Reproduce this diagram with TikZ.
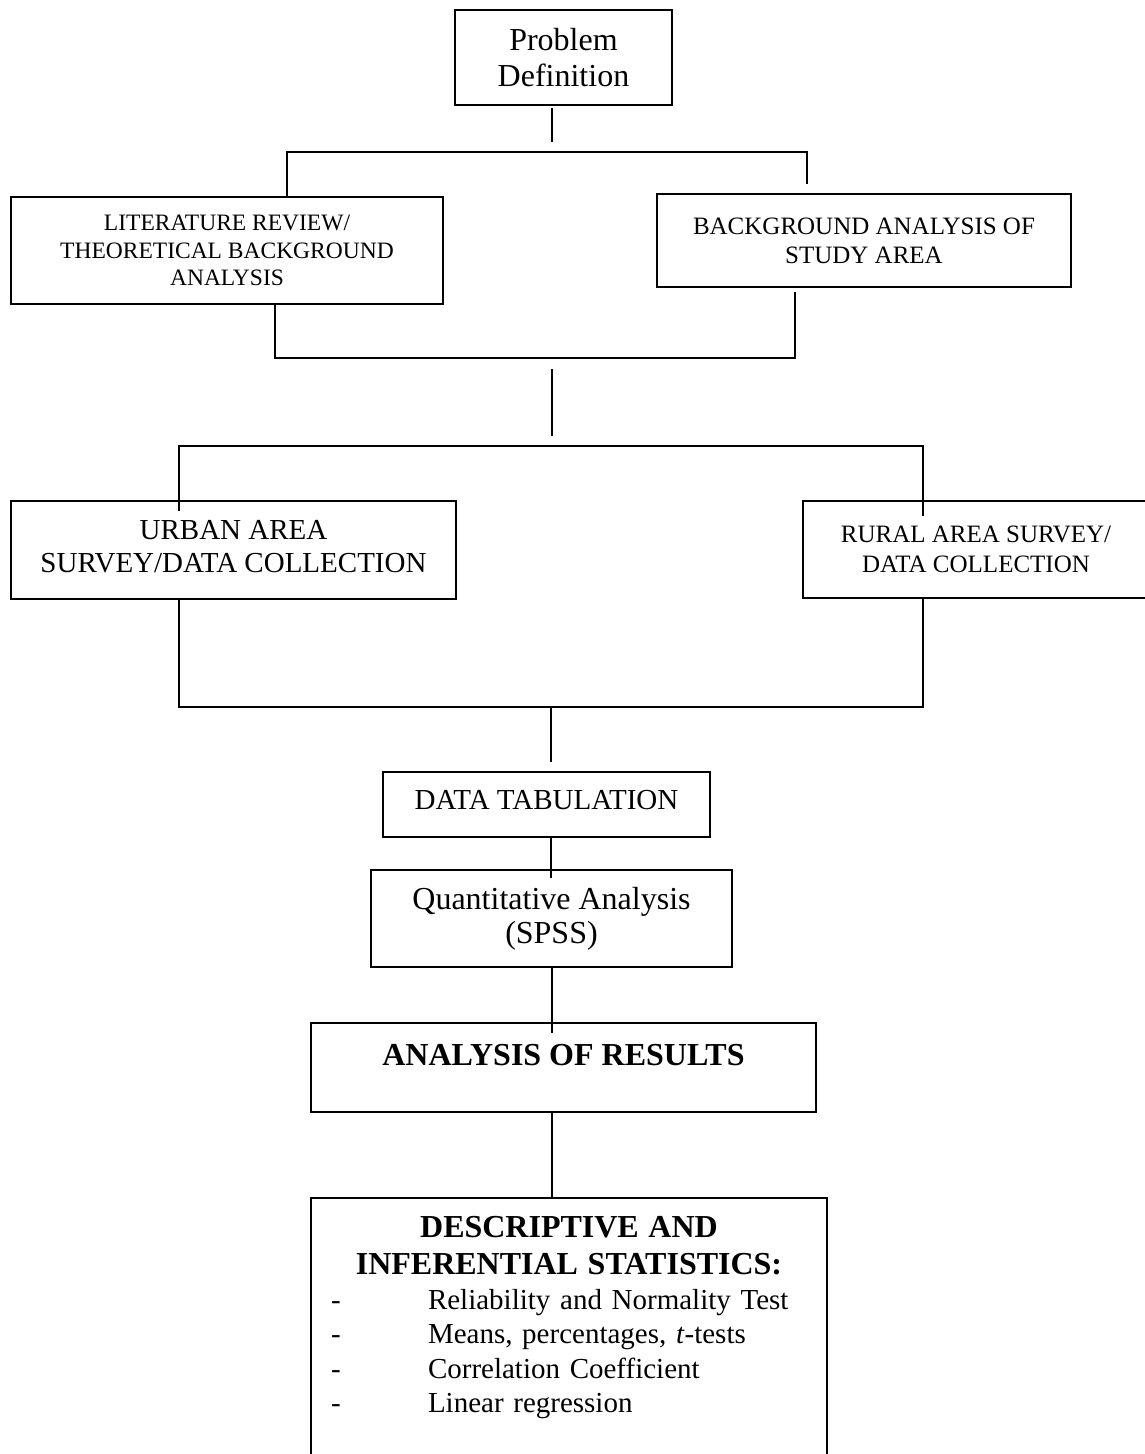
\documentclass[tikz,border=0pt]{standalone}
\usepackage{fontspec}
\setmainfont{Liberation Serif}
\usetikzlibrary{positioning, calc}

\tikzset{
  stage/.style={draw, line width=1.8pt, inner sep=0pt, align=center},
  link/.style={line width=1.8pt}
}
\newcommand{\statitem}[1]{\hspace*{20pt}\makebox[97pt][l]{-}#1}

\begin{document}
\begin{tikzpicture}[x=1pt, y=-1pt]
\useasboundingbox (0,0) rectangle (1145,1454);

% boxes, top to bottom
\node[stage, minimum width=217pt, minimum height=95pt, font=\fontsize{32}{36}\selectfont] (prob) at (563.5,57.5) {Problem\\Definition};
\node[stage, minimum width=432pt, minimum height=107pt, font=\fontsize{23.5}{27.5}\selectfont] (lit) at (227,250.5) {LITERATURE REVIEW/\\THEORETICAL BACKGROUND\\ANALYSIS};
\node[stage, minimum width=414pt, minimum height=93pt, font=\fontsize{25}{29}\selectfont] (bg) at (864,240.5) {BACKGROUND ANALYSIS OF\\STUDY AREA};
\node[stage, minimum width=445pt, minimum height=98pt, text depth=8pt, font=\fontsize{29}{33}\selectfont] (urban) at (233.5,550) {URBAN AREA\\SURVEY/DATA COLLECTION};
\node[stage, minimum width=346pt, minimum height=97pt, font=\fontsize{25}{30}\selectfont] (rural) at (976,549.5) {RURAL AREA SURVEY/\\DATA COLLECTION};
\node[stage, minimum width=327pt, minimum height=65pt, text depth=9pt, font=\fontsize{29}{33}\selectfont] (tab) at (546.5,804.5) {DATA TABULATION};
\node[stage, minimum width=361pt, minimum height=97pt, font=\fontsize{32}{34}\selectfont] (quant) at (551.5,918.5) {Quantitative Analysis\\(SPSS)};
\node[stage, minimum width=505pt, minimum height=89pt, text depth=26pt, font=\fontsize{32}{37}\selectfont\bfseries] (res) at (563.5,1067.5) {ANALYSIS OF RESULTS};
\node[stage, anchor=north, text width=516pt, align=left, font=\fontsize{29}{34.5}\selectfont] (desc) at (569,1197) {%
  {\centering\fontsize{32}{37}\selectfont\bfseries\rule{0pt}{40pt}DESCRIPTIVE AND\\INFERENTIAL STATISTICS:\par}
  \noindent\statitem{Reliability and Normality Test}\\
  \statitem{Means, percentages, \textit{t}-tests}\\
  \statitem{Correlation Coefficient}\\
  \statitem{Linear regression}\\[30pt]
  \mbox{}};

% junction points
\coordinate (pd1) at (552,108);
\coordinate (pd2) at (552,142);
\coordinate (tl) at (287,152);
\coordinate (tr) at (807,152);
\coordinate (tre) at (807,184);
\coordinate (bl) at (275,358);
\coordinate (br) at (795,358);
\coordinate (bre) at (795,292);
\coordinate (m1) at (552,369);
\coordinate (m2) at (552,436);
\coordinate (sl) at (179,446);
\coordinate (sr) at (923,446);
\coordinate (jl) at (179,707);
\coordinate (jr) at (923,707);
\coordinate (t1) at (551,762);
\coordinate (q1) at (551,878);
\coordinate (r1) at (552,1033);

% connectors
\draw[link] (pd1) -- (pd2);
\draw[link] (lit.north -| tl) -- (tl) -- (tr) -- (tre);
\draw[link] (lit.south -| bl) -- (bl) -- (br) -- (bre);
\draw[link] (m1) -- (m2);
\draw[link] ($(urban.north -| sl)+(0,11)$) -- (sl) -- (sr) -- ($(rural.north -| sr)+(0,16)$);
\draw[link] (urban.south -| jl) -- (jl) -- (jr) -- (rural.south -| jr);
\draw[link] (jl -| t1) -- (t1);
\draw[link] (tab.south -| q1) -- (q1);
\draw[link] (quant.south -| r1) -- (r1);
\draw[link] (res.south -| r1) -- (desc.north -| r1);
\end{tikzpicture}
\end{document}
